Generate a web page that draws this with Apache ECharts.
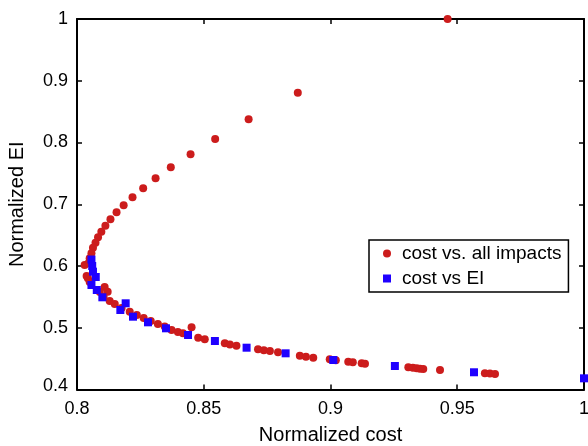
<!DOCTYPE html>
<html>
<head>
<meta charset="utf-8">
<script src="https://cdn.jsdelivr.net/npm/echarts@6/dist/echarts.min.js"></script>
<style>
html,body{margin:0;padding:0;background:#fff;}
#chart{width:588px;height:446px;}
</style>
</head>
<body>
<div id="chart"></div>
<script>
// ---- data ----
const allImpactsCost = [
  0.9462, 0.8871, 0.8677, 0.8545, 0.8448, 0.8370, 0.8310, 0.8261, 0.8219, 0.8184,
  0.8156, 0.8132, 0.8112, 0.8096, 0.8083, 0.8073, 0.8063, 0.8057, 0.8050, 0.8046,
  0.8030,
  0.8043, 0.8050, 0.8038, 0.8109, 0.8121, 0.8090, 0.8105, 0.8129, 0.8149, 0.8176,
  0.8208, 0.8236, 0.8263, 0.8291, 0.8319, 0.8346, 0.8373, 0.8398, 0.8418, 0.8452,
  0.8478, 0.8504, 0.8583, 0.8603, 0.8629, 0.8714, 0.8737, 0.8761, 0.8793, 0.8879,
  0.8903, 0.8932, 0.8997, 0.9021, 0.9070, 0.9088, 0.9123, 0.9136, 0.9307, 0.9325,
  0.9340, 0.9353, 0.9366, 0.9432, 0.9609, 0.9629, 0.9649
];
const allImpactsEI = [
  1.0000, 0.8807, 0.8376, 0.8057, 0.7809, 0.7598, 0.7420, 0.7258, 0.7113, 0.6983,
  0.6870, 0.6756, 0.6653, 0.6556, 0.6465, 0.6377, 0.6296, 0.6206, 0.6125, 0.6049,
  0.6016,
  0.5801, 0.5741, 0.5838, 0.5660, 0.5584, 0.5579, 0.5498, 0.5433, 0.5385, 0.5320,
  0.5260, 0.5207, 0.5158, 0.5109, 0.5061, 0.5020, 0.4964, 0.4931, 0.4910, 0.5007,
  0.4839, 0.4813, 0.4748, 0.4729, 0.4709, 0.4651, 0.4636, 0.4624, 0.4602, 0.4547,
  0.4531, 0.4515, 0.4489, 0.4475, 0.4450, 0.4441, 0.4424, 0.4416, 0.4360, 0.4351,
  0.4343, 0.4337, 0.4332, 0.4316, 0.4262, 0.4258, 0.4251
];
const eiOnlyCost = [
  0.8057, 0.8060, 0.8063, 0.8074, 0.8057, 0.8078, 0.8100, 0.8192, 0.8171, 0.8221,
  0.8280, 0.8351, 0.8438, 0.8544, 0.8669, 0.8823, 0.9011, 0.9254, 0.9566, 1.0000
];
const eiOnlyEI = [
  0.6105, 0.6000, 0.5908, 0.5822, 0.5692, 0.5611, 0.5493, 0.5396, 0.5287, 0.5179,
  0.5088, 0.4991, 0.4883, 0.4785, 0.4677, 0.4586, 0.4478, 0.4381, 0.4279, 0.4181
];
const seriesNames = ['cost vs. all impacts', 'cost vs EI'];
const xTicks = {min: 0.8, max: 1.0, step: 0.05};
const yTicks = {min: 0.4, max: 1.0, step: 0.1};
const xTitle = 'Normalized cost';
const yTitle = 'Normalized EI';

// ---- build ----
const pairs = (xs, ys) => xs.map((x, i) => [x, ys[i]]);
const FONT = 'Liberation Sans';
const fmt = v => String(parseFloat(v.toFixed(2)));
const axisCommon = {
  axisLine: {show: true, onZero: false, lineStyle: {color: '#000', width: 2}},
  axisTick: {show: true, inside: true, length: 5, lineStyle: {color: '#000', width: 1.5}},
  splitLine: {show: false}
};

const chart = echarts.init(document.getElementById('chart'), null, {renderer: 'canvas'});
chart.setOption({
  backgroundColor: '#fff',
  animation: false,
  grid: {left: 77, right: 4, top: 19, bottom: 56.5, containLabel: false, outerBoundsMode: 'none'},
  xAxis: [
    Object.assign({
      type: 'value', position: 'bottom',
      min: xTicks.min, max: xTicks.max, interval: xTicks.step,
      name: xTitle, nameLocation: 'middle', nameGap: 36,
      nameTextStyle: {fontFamily: FONT, fontSize: 20, color: '#000'},
      axisLabel: {fontFamily: FONT, fontSize: 18, color: '#000', margin: 11, formatter: fmt}
    }, axisCommon),
    Object.assign({
      type: 'value', position: 'top',
      min: xTicks.min, max: xTicks.max, interval: xTicks.step,
      axisLabel: {show: false}
    }, axisCommon)
  ],
  yAxis: [
    Object.assign({
      type: 'value', position: 'left',
      min: yTicks.min, max: yTicks.max, interval: yTicks.step,
      name: yTitle, nameLocation: 'middle', nameGap: 50,
      nameTextStyle: {fontFamily: FONT, fontSize: 20, color: '#000'},
      axisLabel: {
        fontFamily: FONT, fontSize: 18, color: '#000', margin: 9,
        formatter: v => (Math.abs(v - yTicks.min) < 1e-9 ? '{low|' + fmt(v) + '}' : fmt(v)),
        rich: {low: {fontFamily: FONT, fontSize: 18, color: '#000', padding: [0, 0, 6, 0]}}
      }
    }, axisCommon),
    Object.assign({
      type: 'value', position: 'right',
      min: yTicks.min, max: yTicks.max, interval: yTicks.step,
      axisLabel: {show: false}
    }, axisCommon)
  ],
  legend: {
    orient: 'vertical',
    left: 369, top: 240,
    padding: [4, 7, 4, 14],
    itemGap: 6,
    itemWidth: 8, itemHeight: 8,
    borderColor: '#000', borderWidth: 1.5,
    backgroundColor: '#fff',
    formatter: name => '{t|' + name + '}',
    textStyle: {
      fontFamily: FONT, fontSize: 19, color: '#000',
      rich: {t: {fontFamily: FONT, fontSize: 19, color: '#000', padding: [0, 0, 0, 6]}}
    },
    data: [
      {name: seriesNames[0], icon: 'circle'},
      {name: seriesNames[1], icon: 'rect'}
    ]
  },
  series: [
    {
      name: seriesNames[0], type: 'scatter', symbol: 'circle', symbolSize: 8,
      clip: false,
      itemStyle: {color: '#cc1c1c', opacity: 1},
      data: pairs(allImpactsCost, allImpactsEI)
    },
    {
      name: seriesNames[1], type: 'scatter', symbol: 'rect', symbolSize: 8,
      clip: false,
      itemStyle: {color: '#1f00ff', opacity: 1},
      data: pairs(eiOnlyCost, eiOnlyEI)
    }
  ]
});
</script>
</body>
</html>
